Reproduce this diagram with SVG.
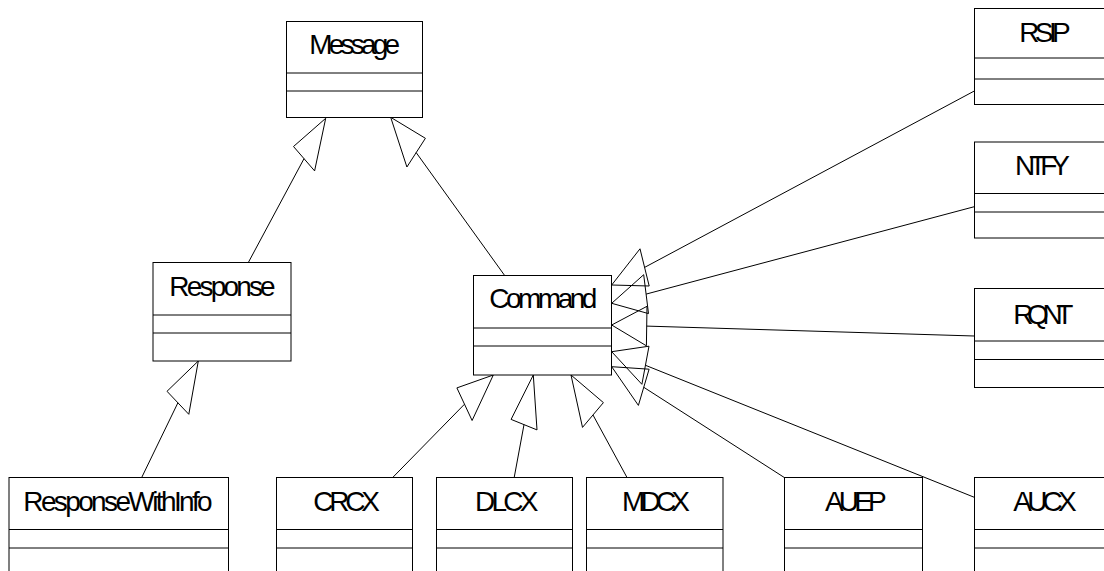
<svg xmlns="http://www.w3.org/2000/svg" width="1104" height="571" viewBox="0 0 1104 571">
<style>
.box{fill:#fff;stroke:#000;stroke-width:1}
.div{stroke:#000;stroke-width:1}
.t{font-family:"Liberation Sans",Arial,sans-serif;font-size:28px;fill:#000;text-anchor:middle}
.ln{stroke:#000;stroke-width:1;fill:none}
.head{stroke:#000;stroke-width:1;fill:none;stroke-linejoin:miter}
</style>
<rect x="0" y="0" width="1104" height="571" fill="#fff"/>
<g id="connectors">
  <polygon class="head" points="325.7,118.3 293.5,146.5 314.6,170.9"/>
  <line class="ln" x1="304.0" y1="158.7" x2="248.6" y2="262"/>
  <polygon class="head" points="390.7,117.3 406.9,167.0 425.4,138.3"/>
  <line class="ln" x1="416.2" y1="152.6" x2="504.3" y2="275"/>
  <polygon class="head" points="198.3,361 167.0,391.3 188.8,414.3"/>
  <line class="ln" x1="177.9" y1="402.8" x2="141.7" y2="477.5"/>
  <polygon class="head" points="493.3,375 456.9,387.9 472.1,420.5"/>
  <line class="ln" x1="464.5" y1="404.2" x2="392.7" y2="477.5"/>
  <polygon class="head" points="533.3,375 511.1,419.4 537.0,429.9"/>
  <line class="ln" x1="524.0" y1="424.6" x2="514.2" y2="477.5"/>
  <polygon class="head" points="571,375 582.5,427.4 603.4,402.6"/>
  <line class="ln" x1="593.0" y1="415.0" x2="627" y2="477.5"/>
  <polygon class="head" points="611.7,366.7 638.4,405.4 649.1,369.2"/>
  <line class="ln" x1="643.8" y1="387.3" x2="784.3" y2="477.5"/>
  <polygon class="head" points="611.7,351.7 641.9,384.3 649.0,346.2"/>
  <line class="ln" x1="645.5" y1="365.3" x2="974.3" y2="497.3"/>
  <polygon class="head" points="611.7,325 646.4,345.8 647.0,306.3"/>
  <line class="ln" x1="646.7" y1="326.1" x2="974.3" y2="336"/>
  <polygon class="head" points="611.7,303.3 648.5,313.6 643.7,274.7"/>
  <line class="ln" x1="646.1" y1="294.1" x2="974.3" y2="206.7"/>
  <polygon class="head" points="611.7,285 649.2,286.0 640.0,248.8"/>
  <line class="ln" x1="644.6" y1="267.4" x2="974.3" y2="91"/>
</g>
<g id="Message">
  <rect class="box" x="286.5" y="21.5" width="136" height="96"/>
  <line class="div" x1="286.5" y1="73" x2="422.5" y2="73"/>
  <line class="div" x1="286.5" y1="91" x2="422.5" y2="91"/>
  <text class="t" x="354.7" y="54" textLength="90.7">Message</text>
</g>
<g id="Response">
  <rect class="box" x="153" y="262.5" width="138" height="98.5"/>
  <line class="div" x1="153" y1="315" x2="291" y2="315"/>
  <line class="div" x1="153" y1="333" x2="291" y2="333"/>
  <text class="t" x="222.5" y="296" textLength="106.4">Response</text>
</g>
<g id="Command">
  <rect class="box" x="473.5" y="275.5" width="138" height="99.5"/>
  <line class="div" x1="473.5" y1="328" x2="611.5" y2="328"/>
  <line class="div" x1="473.5" y1="346" x2="611.5" y2="346"/>
  <text class="t" x="543.3" y="308" textLength="108">Command</text>
</g>
<g id="RSIP">
  <rect class="box" x="974.5" y="8.5" width="140" height="96"/>
  <line class="div" x1="974.5" y1="58" x2="1114.5" y2="58"/>
  <line class="div" x1="974.5" y1="79" x2="1114.5" y2="79"/>
  <text class="t" x="1045" y="42" textLength="51.4">RSIP</text>
</g>
<g id="NTFY">
  <rect class="box" x="974.5" y="142" width="140" height="96"/>
  <line class="div" x1="974.5" y1="193.5" x2="1114.5" y2="193.5"/>
  <line class="div" x1="974.5" y1="212" x2="1114.5" y2="212"/>
  <text class="t" x="1042.5" y="175" textLength="55">NTFY</text>
</g>
<g id="RQNT">
  <rect class="box" x="974.5" y="288.5" width="140" height="99"/>
  <line class="div" x1="974.5" y1="341" x2="1114.5" y2="341"/>
  <line class="div" x1="974.5" y1="359.5" x2="1114.5" y2="359.5"/>
  <text class="t" x="1043.3" y="324" textLength="60">RQNT</text>
</g>
<g id="ResponseWithInfo">
  <rect class="box" x="9" y="477.5" width="219.5" height="100"/>
  <line class="div" x1="9" y1="529.5" x2="228.5" y2="529.5"/>
  <line class="div" x1="9" y1="548" x2="228.5" y2="548"/>
  <text class="t" x="118" y="511" textLength="189.4">ResponseWithInfo</text>
</g>
<g id="CRCX">
  <rect class="box" x="276.5" y="477.5" width="136" height="100"/>
  <line class="div" x1="276.5" y1="529.5" x2="412.5" y2="529.5"/>
  <line class="div" x1="276.5" y1="548" x2="412.5" y2="548"/>
  <text class="t" x="346.7" y="511" textLength="66.7">CRCX</text>
</g>
<g id="DLCX">
  <rect class="box" x="436.5" y="477.5" width="136" height="100"/>
  <line class="div" x1="436.5" y1="529.5" x2="572.5" y2="529.5"/>
  <line class="div" x1="436.5" y1="548" x2="572.5" y2="548"/>
  <text class="t" x="506.7" y="511" textLength="63.3">DLCX</text>
</g>
<g id="MDCX">
  <rect class="box" x="586.5" y="477.5" width="136.5" height="100"/>
  <line class="div" x1="586.5" y1="529.5" x2="723" y2="529.5"/>
  <line class="div" x1="586.5" y1="548" x2="723" y2="548"/>
  <text class="t" x="656" y="511" textLength="68">MDCX</text>
</g>
<g id="AUEP">
  <rect class="box" x="784.5" y="477.5" width="138" height="100"/>
  <line class="div" x1="784.5" y1="529.5" x2="922.5" y2="529.5"/>
  <line class="div" x1="784.5" y1="548" x2="922.5" y2="548"/>
  <text class="t" x="855.8" y="511" textLength="61.7">AUEP</text>
</g>
<g id="AUCX">
  <rect class="box" x="974.5" y="477.5" width="140" height="100"/>
  <line class="div" x1="974.5" y1="529.5" x2="1114.5" y2="529.5"/>
  <line class="div" x1="974.5" y1="548" x2="1114.5" y2="548"/>
  <text class="t" x="1045" y="511" textLength="63.4">AUCX</text>
</g>
</svg>
